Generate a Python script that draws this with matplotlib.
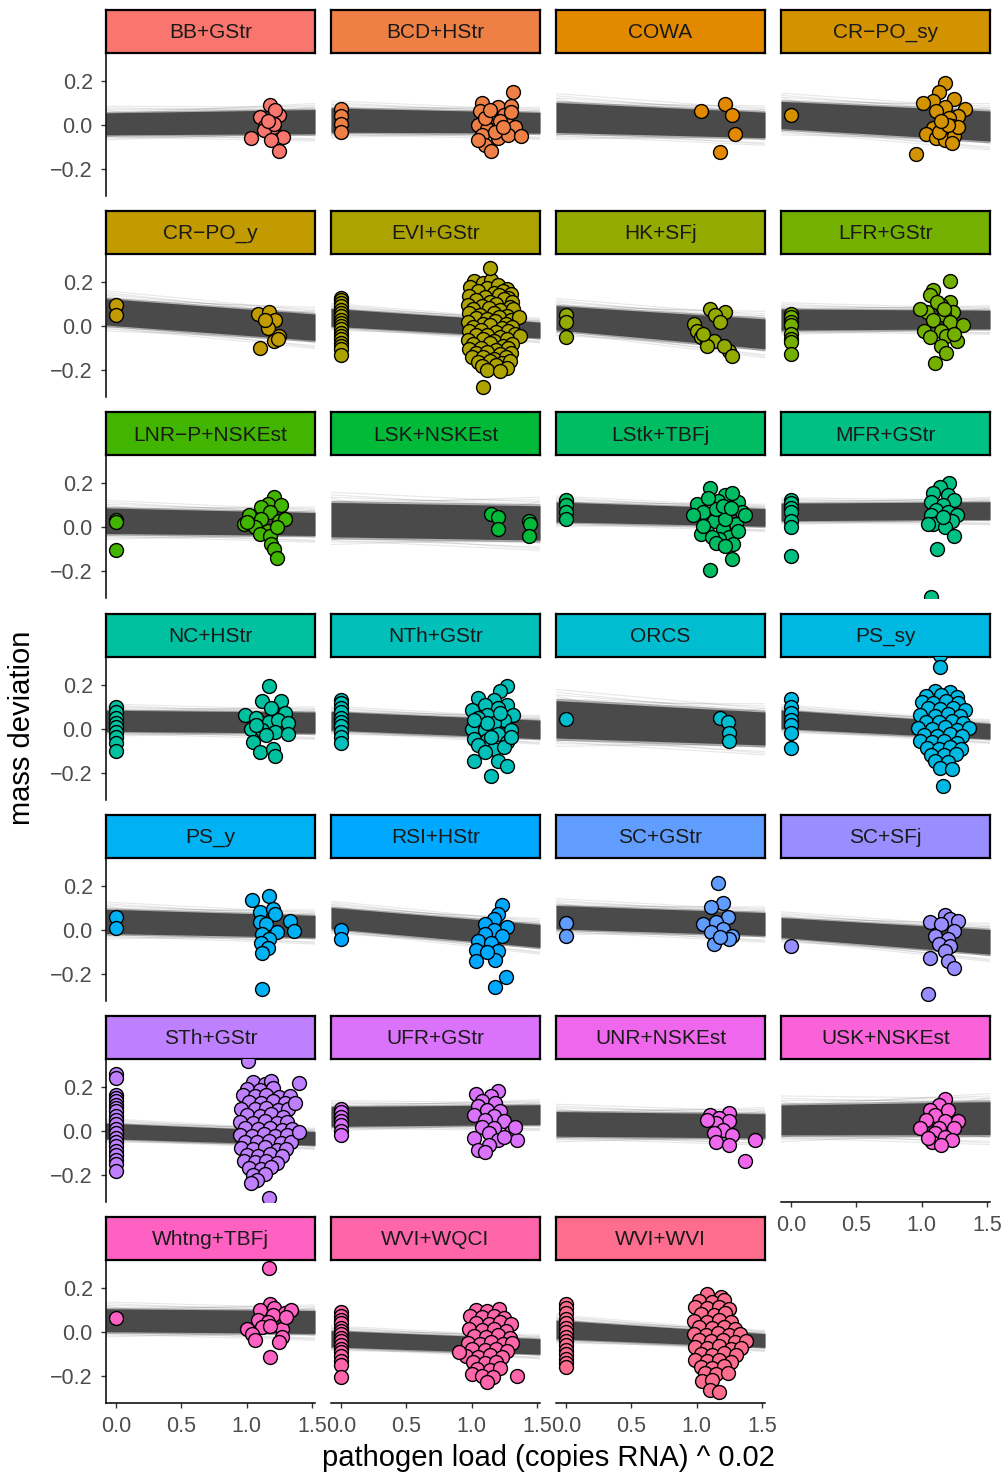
import numpy as np
import matplotlib
matplotlib.use("Agg")
import matplotlib.pyplot as plt

plt.rcParams['font.family'] = ['Liberation Sans', 'DejaVu Sans']

# facet names (ggplot facet_wrap order)
facets = ["BB+GStr", "BCD+HStr", "COWA", "CR\u2212PO_sy",
          "CR\u2212PO_y", "EVI+GStr", "HK+SFj", "LFR+GStr",
          "LNR\u2212P+NSKEst", "LSK+NSKEst", "LStk+TBFj", "MFR+GStr",
          "NC+HStr", "NTh+GStr", "ORCS", "PS_sy",
          "PS_y", "RSI+HStr", "SC+GStr", "SC+SFj",
          "STh+GStr", "UFR+GStr", "UNR+NSKEst", "USK+NSKEst",
          "Whtng+TBFj", "WVI+WQCI", "WVI+WVI"]

# posterior fit band: centre and half width at the left / right panel edge
fit_left = [0.005, 0.022, 0.034, 0.045, 0.065, 0.04, 0.038, 0.03,
            0.03, 0.035, 0.07, 0.07, 0.035, 0.035, 0.042, 0.042,
            0.038, 0.053, 0.057, 0.01, 0.0, 0.066, 0.032, 0.05,
            0.054, -0.03, 0.012]
fit_right = [0.015, 0.01, 0.0, -0.005, -0.005, -0.018, -0.035, 0.03,
             0.015, 0.02, 0.045, 0.076, 0.027, -0.004, 0.0, -0.012,
             0.015, -0.028, 0.026, -0.055, -0.034, 0.074, 0.023, 0.058,
             0.046, -0.065, -0.038]
spread_left = [0.05, 0.055, 0.068, 0.062, 0.06, 0.04, 0.055, 0.048,
               0.058, 0.078, 0.045, 0.04, 0.048, 0.042, 0.085, 0.042,
               0.055, 0.048, 0.053, 0.045, 0.035, 0.045, 0.056, 0.068,
               0.052, 0.037, 0.042]
spread_right = [0.055, 0.047, 0.058, 0.068, 0.06, 0.036, 0.068, 0.042,
                0.052, 0.078, 0.04, 0.04, 0.048, 0.042, 0.075, 0.035,
                0.05, 0.052, 0.052, 0.056, 0.031, 0.045, 0.055, 0.075,
                0.052, 0.035, 0.031]

# observed points (pathogen load ^ 0.02, mass deviation)
pts_bb_gstr = [(1.18, 0.09), (1.10, 0.035), (1.25, 0.045), (1.22, 0.07), (1.14, -0.005),
               (1.20, -0.01), (1.13, -0.025), (1.03, -0.06), (1.28, -0.055), (1.19, -0.07),
               (1.25, -0.12), (1.21, 0.005), (1.16, 0.02)]
pts_bcd_hstr = [(0, 0.073), (0, 0.042), (0, 0.005), (0, -0.03),
                (1.32, 0.15), (1.08, 0.10), (1.20, 0.08), (1.30, 0.085), (1.06, 0.065),
                (1.15, 0.04), (1.25, 0.045), (1.05, 0.0), (1.12, -0.02), (1.27, 0.005),
                (1.33, -0.01), (1.08, -0.045), (1.20, -0.06), (1.28, -0.045), (1.38, -0.05),
                (1.10, -0.09), (1.15, -0.12), (1.05, -0.07), (1.22, 0.02), (1.30, 0.06),
                (1.18, -0.03), (1.10, 0.03), (1.14, 0.07), (1.24, -0.01)]
pts_cowa = [(1.03, 0.065), (1.22, 0.096), (1.27, 0.047), (1.29, -0.043), (1.18, -0.124)]
pts_cr_po_sy = [(0, 0.045), (1.18, 0.19), (1.13, 0.15), (1.25, 0.12), (1.085, 0.11),
                (1.01, 0.10), (1.18, 0.08), (1.33, 0.073), (1.11, 0.065), (1.28, 0.042),
                (1.21, 0.031), (1.23, -0.005), (1.085, -0.012), (1.16, -0.02), (1.035, -0.043),
                (1.11, -0.059), (1.18, -0.067), (1.25, -0.051), (1.23, -0.082), (0.96, -0.13),
                (1.13, -0.03), (1.28, -0.01), (1.20, 0.0), (1.15, 0.02)]
pts_cr_po_y = [(0, 0.098), (0, 0.049), (1.09, 0.057), (1.17, 0.065), (1.22, 0.026),
               (1.16, -0.009), (1.25, -0.043), (1.21, -0.066), (1.10, -0.10), (1.24, -0.058),
               (1.14, 0.03)]
pts_evi_gstr = [(0, v) for v in [0.13, 0.12, 0.105, 0.09, 0.075, 0.06, 0.045, 0.03, 0.015,
                                 0.0, -0.015, -0.03, -0.045, -0.06, -0.075, -0.09, -0.105, -0.13]] + [
    (1.02, 0.205), (1.09, 0.195), (1.15, 0.21),
    (0.99, 0.178), (1.12, 0.172), (1.20, 0.185), (1.27, 0.168),
    (1.05, 0.158), (1.17, 0.150), (1.24, 0.162), (1.30, 0.148),
    (0.98, 0.138), (1.10, 0.132), (1.21, 0.142), (1.28, 0.128),
    (1.03, 0.118), (1.14, 0.112), (1.25, 0.122), (1.31, 0.108),
    (0.97, 0.098), (1.08, 0.092), (1.19, 0.102), (1.29, 0.088),
    (1.01, 0.078), (1.13, 0.082), (1.22, 0.072), (1.32, 0.076),
    (0.98, 0.058), (1.06, 0.052), (1.17, 0.062), (1.27, 0.048),
    (1.03, 0.038), (1.12, 0.032), (1.21, 0.042), (1.30, 0.028), (1.36, 0.040),
    (0.97, 0.018), (1.09, 0.012), (1.18, 0.022), (1.26, 0.008),
    (1.01, -0.002), (1.14, 0.004), (1.23, -0.008), (1.31, -0.004),
    (0.98, -0.022), (1.07, -0.018), (1.19, -0.028), (1.28, -0.020),
    (1.03, -0.042), (1.12, -0.038), (1.22, -0.048), (1.33, -0.036), (1.37, -0.045),
    (0.97, -0.062), (1.09, -0.058), (1.17, -0.068), (1.27, -0.060),
    (1.01, -0.082), (1.14, -0.078), (1.24, -0.088), (1.31, -0.080),
    (0.98, -0.102), (1.07, -0.098), (1.19, -0.108), (1.28, -0.100),
    (1.03, -0.122), (1.12, -0.118), (1.22, -0.128), (1.30, -0.120),
    (1.00, -0.142), (1.09, -0.138), (1.17, -0.148), (1.26, -0.140),
    (1.05, -0.162), (1.14, -0.158), (1.23, -0.168), (1.29, -0.160),
    (1.08, -0.182), (1.19, -0.178), (1.27, -0.188),
    (1.12, -0.198), (1.22, -0.205),
    (1.14, 0.265), (1.09, -0.277)]
pts_hk_sfj = [(0, 0.049), (0, 0.018), (0, -0.051), (1.10, 0.08), (1.22, 0.065), (1.14, 0.05),
              (0.98, 0.01), (1.0, -0.02), (1.03, -0.05), (1.08, -0.074), (1.13, -0.066),
              (1.18, 0.018), (1.25, -0.112), (1.21, -0.09), (1.08, -0.09), (1.27, -0.135),
              (1.05, -0.035)]
pts_lfr_gstr = [(0, 0.057), (0, 0.04), (0, 0.02), (0, 0.003), (0, -0.035), (0, -0.058),
                (0, -0.074), (0, -0.128),
                (1.22, 0.206), (1.09, 0.165), (1.06, 0.14), (1.22, 0.11), (1.15, 0.095),
                (1.04, 0.065), (1.24, 0.065), (1.17, 0.05), (1.09, 0.026), (1.22, 0.018),
                (1.32, 0.003), (1.015, -0.02), (1.15, -0.02), (1.06, -0.05), (1.19, -0.043),
                (1.27, -0.066), (1.15, -0.09), (1.19, -0.12), (1.10, -0.166), (1.25, -0.035),
                (1.12, 0.11), (0.99, 0.08), (1.17, 0.08)]
pts_lnr_p_nskest = [(0, 0.035), (0, 0.025), (0, -0.103),
                    (1.21, 0.138), (1.16, 0.108), (1.26, 0.10), (1.11, 0.092), (1.02, 0.054),
                    (1.18, 0.069), (1.11, 0.038), (0.98, 0.015), (1.25, 0.03), (1.29, 0.038),
                    (1.06, 0.0), (1.16, -0.015), (1.10, -0.03), (1.18, -0.038), (1.19, -0.077),
                    (1.21, -0.10), (1.23, -0.138), (1.0, 0.023), (1.23, 0.0)]
pts_lsk_nskest = [(1.15, 0.062), (1.2, 0.046), (1.2, -0.008), (1.44, 0.03), (1.45, 0.015),
                  (1.44, -0.04)]
pts_lstk_tbfj = [(0, 0.123), (0, 0.10), (0, 0.07), (0, 0.04),
                 (1.10, 0.177), (1.0, 0.108), (1.22, 0.146), (1.32, 0.115), (1.35, 0.069),
                 (1.05, 0.069), (1.16, 0.118), (1.27, 0.154), (1.13, 0.031), (1.30, 0.015),
                 (0.97, 0.054), (1.2, -0.008), (1.08, -0.023), (1.25, -0.046), (1.03, -0.03),
                 (1.17, -0.054), (1.28, -0.077), (1.10, -0.195), (1.27, -0.143), (1.22, 0.038),
                 (1.37, 0.054), (1.15, 0.085), (1.05, 0.008), (1.32, -0.015), (1.12, -0.046),
                 (1.20, 0.095), (1.09, 0.135), (1.26, 0.09), (1.15, -0.07), (1.22, -0.085)]
pts_mfr_gstr = [(0, 0.125), (0, 0.11), (0, 0.09), (0, 0.07), (0, 0.03), (0, 0.0), (0, -0.13),
                (1.21, 0.2), (1.14, 0.185), (1.09, 0.154), (1.2, 0.146), (1.25, 0.123),
                (1.07, 0.115), (1.16, 0.10), (1.11, 0.077), (1.2, 0.069), (1.27, 0.054),
                (1.07, 0.054), (1.14, 0.031), (1.23, 0.031), (1.09, 0.015), (1.18, 0.0),
                (1.25, -0.038), (1.12, -0.10), (1.07, -0.315), (1.05, 0.015), (1.16, 0.046)]
pts_nc_hstr = [(0, 0.1), (0, 0.075), (0, 0.05), (0, 0.025), (0, 0.005), (0, -0.015),
               (0, -0.04), (0, -0.065), (0, -0.1),
               (1.17, 0.192), (1.12, 0.123), (1.26, 0.123), (0.99, 0.062), (1.19, 0.092),
               (1.29, 0.069), (1.07, 0.046), (1.17, 0.031), (1.24, 0.038), (1.32, 0.023),
               (1.03, 0.0), (1.12, -0.008), (1.22, -0.015), (1.32, -0.023), (1.05, -0.062),
               (1.10, -0.108), (1.20, -0.092), (1.22, -0.123), (1.15, -0.031), (1.07, 0.015)]
pts_nth_gstr = [(0, 0.13), (0, 0.115), (0, 0.095), (0, 0.075), (0, 0.05), (0, 0.03),
                (0, 0.01), (0, -0.015), (0, -0.04), (0, -0.065),
                (1.27, 0.192), (1.22, 0.169), (1.05, 0.138), (1.17, 0.131), (1.27, 0.108),
                (1.10, 0.108), (1.0, 0.085), (1.2, 0.092), (1.32, 0.062), (1.12, 0.062),
                (1.05, 0.046), (1.25, 0.038), (1.17, 0.023), (1.0, 0.0), (1.10, -0.008),
                (1.30, -0.008), (1.2, -0.023), (1.02, -0.046), (1.12, -0.054), (1.27, -0.062),
                (1.05, -0.077), (1.17, -0.092), (1.25, -0.085), (1.10, -0.108), (1.02, -0.146),
                (1.2, -0.146), (1.27, -0.169), (1.15, -0.215), (1.12, 0.023), (1.02, 0.04),
                (1.22, 0.07), (1.15, -0.04), (1.30, -0.04)]
pts_orcs = [(0, 0.045), (1.18, 0.05), (1.24, 0.032), (1.25, -0.02), (1.25, -0.055)]
pts_ps_sy = [(0, 0.135), (0, 0.10), (0, 0.07), (0, 0.04), (0, 0.015), (0, -0.02), (0, -0.09),
             (1.10, 0.172), (1.22, 0.168),
             (1.03, 0.148), (1.15, 0.152), (1.27, 0.145),
             (1.00, 0.122), (1.09, 0.118), (1.19, 0.125), (1.28, 0.115),
             (1.05, 0.092), (1.14, 0.088), (1.24, 0.095), (1.33, 0.085),
             (0.99, 0.062), (1.10, 0.058), (1.20, 0.065), (1.29, 0.055),
             (1.03, 0.032), (1.13, 0.028), (1.23, 0.035), (1.32, 0.025),
             (0.97, 0.002), (1.08, -0.002), (1.18, 0.005), (1.27, -0.005), (1.36, 0.002),
             (1.02, -0.028), (1.12, -0.032), (1.22, -0.025), (1.31, -0.035),
             (0.99, -0.058), (1.08, -0.062), (1.17, -0.055), (1.27, -0.065),
             (1.04, -0.088), (1.13, -0.092), (1.22, -0.085), (1.30, -0.095),
             (1.07, -0.118), (1.17, -0.122), (1.26, -0.115),
             (1.10, -0.148), (1.20, -0.152),
             (1.14, -0.178), (1.23, -0.185),
             (1.14, 0.335), (1.14, 0.278), (1.16, -0.262)]
pts_ps_y = [(0, 0.06), (0, 0.01),
            (1.04, 0.135), (1.17, 0.155), (1.10, 0.08), (1.20, 0.096), (1.22, 0.073),
            (1.33, 0.042), (1.36, -0.005), (1.10, 0.034), (1.15, 0.026), (1.23, -0.012),
            (1.12, -0.02), (1.17, -0.043), (1.11, -0.062), (1.16, -0.082), (1.12, -0.105),
            (1.12, -0.268)]
pts_rsi_hstr = [(0, 0.0), (0, -0.04),
                (1.23, 0.112), (1.20, 0.073), (1.17, 0.05), (1.10, 0.026), (1.27, 0.011),
                (1.17, 0.0), (1.10, -0.02), (1.23, -0.028), (1.05, -0.051), (1.15, -0.059),
                (1.03, -0.09), (1.20, -0.098), (1.18, -0.136), (1.03, -0.144), (1.26, -0.214),
                (1.18, -0.26), (1.12, -0.10)]
pts_sc_gstr = [(0, 0.03), (0, -0.03),
               (1.16, 0.212), (1.20, 0.12), (1.11, 0.104), (1.24, 0.057), (1.05, 0.026),
               (1.15, 0.034), (1.20, 0.003), (1.11, -0.012), (1.27, -0.028), (1.25, -0.043),
               (1.13, -0.067), (1.18, -0.035)]
pts_sc_sfj = [(0, -0.074),
              (1.06, 0.034), (1.18, 0.065), (1.22, 0.05), (1.28, 0.042), (1.15, 0.026),
              (1.25, -0.005), (1.10, -0.028), (1.20, -0.043), (1.13, -0.067), (1.22, -0.074),
              (1.18, -0.098), (1.06, -0.129), (1.20, -0.144), (1.25, -0.175), (1.05, -0.29)]
pts_sth_gstr = [(0, v) for v in [0.26, 0.24, 0.165, 0.15, 0.135, 0.12, 0.105, 0.09, 0.07,
                                 0.05, 0.03, 0.01, -0.01, -0.03, -0.05, -0.07, -0.09, -0.11,
                                 -0.13, -0.15, -0.18]] + [
    (1.05, 0.222), (1.14, 0.212), (1.19, 0.225),
    (1.00, 0.192), (1.10, 0.188), (1.20, 0.195),
    (0.97, 0.162), (1.06, 0.158), (1.15, 0.165), (1.25, 0.155), (1.33, 0.160),
    (1.02, 0.132), (1.11, 0.128), (1.20, 0.135), (1.29, 0.125),
    (0.96, 0.102), (1.06, 0.098), (1.15, 0.105), (1.24, 0.095), (1.32, 0.100),
    (1.00, 0.072), (1.10, 0.068), (1.19, 0.075), (1.28, 0.065),
    (0.95, 0.042), (1.05, 0.038), (1.14, 0.045), (1.23, 0.035), (1.31, 0.040),
    (0.99, 0.012), (1.09, 0.008), (1.18, 0.015), (1.27, 0.005), (1.35, 0.010),
    (0.95, -0.018), (1.04, -0.022), (1.13, -0.015), (1.22, -0.025), (1.31, -0.020),
    (0.99, -0.048), (1.08, -0.052), (1.17, -0.045), (1.26, -0.055), (1.34, -0.050),
    (0.96, -0.078), (1.05, -0.082), (1.14, -0.075), (1.23, -0.085), (1.30, -0.080),
    (1.00, -0.108), (1.09, -0.112), (1.18, -0.105), (1.27, -0.115),
    (0.98, -0.138), (1.06, -0.142), (1.15, -0.135), (1.23, -0.145),
    (1.02, -0.168), (1.11, -0.172), (1.19, -0.165),
    (1.05, -0.198), (1.14, -0.195),
    (1.08, -0.225), (1.03, -0.238),
    (1.40, 0.22), (1.37, 0.127), (1.40, -0.005), (1.17, -0.305), (1.01, 0.32)]
pts_ufr_gstr = [(0, 0.1), (0, 0.085), (0, 0.065), (0, 0.045), (0, 0.025), (0, 0.0), (0, -0.02),
                (1.2, 0.18), (1.03, 0.166), (1.15, 0.158), (1.08, 0.135), (1.18, 0.128),
                (1.05, 0.112), (1.12, 0.097), (1.22, 0.09), (1.02, 0.074), (1.17, 0.066),
                (1.10, 0.05), (1.25, 0.043), (1.08, 0.02), (1.17, 0.012), (1.30, -0.003),
                (1.13, -0.011), (1.02, -0.034), (1.20, -0.042), (1.35, -0.042), (1.13, -0.065),
                (1.05, -0.088), (1.10, -0.095), (1.25, -0.026), (1.33, 0.02)]
pts_unr_nskest = [(1.10, 0.074), (1.25, 0.08), (1.17, 0.058), (1.25, 0.043), (1.15, 0.035),
                  (1.20, 0.005), (1.13, -0.01), (1.27, -0.018), (1.15, -0.049), (1.25, -0.065),
                  (1.45, -0.042), (1.37, -0.138), (1.08, 0.05)]
pts_usk_nskest = [(1.18, 0.146), (1.13, 0.12), (1.06, 0.097), (1.20, 0.097), (1.10, 0.074),
                  (1.03, 0.05), (1.18, 0.043), (1.28, 0.043), (0.99, 0.015), (1.13, 0.012),
                  (1.25, 0.012), (1.10, -0.011), (1.18, -0.026), (1.08, -0.049), (1.23, -0.042),
                  (1.15, -0.065), (1.05, -0.034)]
pts_whtng_tbfj = [(0, 0.062),
                  (1.17, 0.29), (1.18, 0.128), (1.10, 0.10), (1.21, 0.108), (1.29, 0.085),
                  (1.34, 0.10), (1.20, 0.077), (1.09, 0.054), (1.16, 0.046), (1.0, 0.015),
                  (1.12, 0.023), (1.27, 0.015), (1.04, -0.008), (1.27, -0.02), (1.06, -0.038),
                  (1.25, -0.046), (1.18, -0.115), (1.18, 0.03), (1.30, 0.07)]
pts_wvi_wqci = [(0, v) for v in [0.09, 0.075, 0.055, 0.04, 0.02, 0.005, -0.01, -0.025, -0.04,
                                 -0.06, -0.075, -0.09, -0.11, -0.13, -0.15, -0.205]] + [
    (1.03, 0.102), (1.12, 0.098), (1.21, 0.105),
    (0.99, 0.072), (1.08, 0.068), (1.17, 0.075), (1.25, 0.065),
    (1.03, 0.042), (1.13, 0.038), (1.22, 0.045), (1.30, 0.035),
    (0.98, 0.012), (1.08, 0.008), (1.17, 0.015), (1.26, 0.005),
    (1.02, -0.018), (1.11, -0.022), (1.20, -0.015), (1.29, -0.025),
    (0.97, -0.048), (1.06, -0.052), (1.15, -0.045), (1.24, -0.055), (1.31, -0.050),
    (1.00, -0.078), (1.10, -0.082), (1.19, -0.075), (1.27, -0.085),
    (0.96, -0.108), (1.05, -0.112), (1.14, -0.105), (1.23, -0.115),
    (1.01, -0.138), (1.10, -0.142), (1.19, -0.135),
    (1.04, -0.168), (1.14, -0.172), (1.22, -0.165),
    (1.00, -0.192), (1.08, -0.198), (1.16, -0.205),
    (1.12, -0.225),
    (0.90, -0.09), (1.35, -0.20)]
pts_wvi_wvi = [(0, v) for v in [0.13, 0.11, 0.085, 0.06, 0.04, 0.02, 0.0, -0.02, -0.04,
                                -0.06, -0.08, -0.1, -0.12, -0.14, -0.16]] + [
    (1.08, 0.172), (1.19, 0.160),
    (1.02, 0.142), (1.12, 0.138), (1.21, 0.145),
    (0.99, 0.112), (1.08, 0.108), (1.17, 0.115), (1.25, 0.105),
    (1.03, 0.082), (1.13, 0.078), (1.22, 0.085),
    (0.98, 0.052), (1.08, 0.048), (1.17, 0.055), (1.26, 0.045),
    (1.02, 0.022), (1.12, 0.018), (1.21, 0.025), (1.29, 0.015),
    (0.98, -0.008), (1.07, -0.012), (1.16, -0.005), (1.25, -0.015), (1.33, -0.010),
    (1.02, -0.038), (1.11, -0.042), (1.20, -0.035), (1.29, -0.045), (1.38, -0.040),
    (0.99, -0.068), (1.08, -0.072), (1.17, -0.065), (1.26, -0.075), (1.34, -0.070),
    (1.03, -0.098), (1.12, -0.102), (1.21, -0.095), (1.30, -0.105),
    (0.99, -0.128), (1.08, -0.132), (1.17, -0.125), (1.26, -0.135),
    (1.03, -0.158), (1.12, -0.162), (1.21, -0.155),
    (1.06, -0.188), (1.15, -0.192), (1.24, -0.185),
    (1.04, -0.222), (1.12, -0.218),
    (1.10, -0.262), (1.17, -0.270)]

facet_points = [pts_bb_gstr, pts_bcd_hstr, pts_cowa, pts_cr_po_sy,
                pts_cr_po_y, pts_evi_gstr, pts_hk_sfj, pts_lfr_gstr,
                pts_lnr_p_nskest, pts_lsk_nskest, pts_lstk_tbfj, pts_mfr_gstr,
                pts_nc_hstr, pts_nth_gstr, pts_orcs, pts_ps_sy,
                pts_ps_y, pts_rsi_hstr, pts_sc_gstr, pts_sc_sfj,
                pts_sth_gstr, pts_ufr_gstr, pts_unr_nskest, pts_usk_nskest,
                pts_whtng_tbfj, pts_wvi_wqci, pts_wvi_wvi]

x_ticks = [0.0, 0.5, 1.0, 1.5]
y_ticks = [-0.2, 0.0, 0.2]


def hue_colour(h, c=100.0, l=65.0):
    # ggplot's default hcl() hue palette
    hr = np.deg2rad(h)
    u, v = c * np.cos(hr), c * np.sin(hr)
    xn, yn, zn = 95.047, 100.0, 108.883
    Y = yn * ((l + 16) / 116) ** 3
    den = xn + 15 * yn + 3 * zn
    up = u / (13 * l) + 4 * xn / den
    vp = v / (13 * l) + 9 * yn / den
    X = Y * 9 * up / (4 * vp)
    Z = Y * (12 - 3 * up - 20 * vp) / (4 * vp)
    m = np.array([[3.240479, -1.537150, -0.498535],
                  [-0.969256, 1.875992, 0.041556],
                  [0.055648, -0.204043, 1.057311]])
    rgb = m @ np.array([X, Y, Z]) / 100
    rgb = np.where(rgb <= 0.0031308, 12.92 * rgb, 1.055 * np.abs(rgb) ** (1 / 2.4) - 0.055)
    return tuple(np.clip(rgb, 0, 1))


n = len(facets)
hues = np.linspace(15, 375, n + 1)[:n]
colours = [hue_colour(h) for h in hues]

W, H = 1004, 1475
fig = plt.figure(figsize=(W / 100, H / 100), dpi=100)

col_left = [106, 331, 556, 781]
pw, strip_h, ph, pitch = 209, 43, 143, 201.2
xlo, xhi = -0.0765, 1.523
ylo, yhi = -0.323, 0.327

# fringe draws around the dark core (multiples of the half width)
fringe = [(1.3, 1.1), (1.1, 1.35), (1.45, 0.9), (0.9, 1.5), (-1.3, -1.1), (-1.1, -1.4),
          (-1.45, -0.9), (-0.9, -1.5), (1.25, -1.2), (-1.2, 1.25), (1.6, 1.2), (-1.2, -1.6)]

for i, name in enumerate(facets):
    r, c = divmod(i, 4)
    x0 = col_left[c]
    top = 10 + pitch * r

    sax = fig.add_axes([x0 / W, 1 - (top + strip_h) / H, pw / W, strip_h / H])
    sax.set_facecolor(colours[i])
    sax.set_xticks([])
    sax.set_yticks([])
    for s in sax.spines.values():
        s.set_linewidth(1.6)
        s.set_color('black')
    sax.text(0.5, 0.47, name, ha='center', va='center', fontsize=15,
             color='#1A1A1A', transform=sax.transAxes)

    ax = fig.add_axes([x0 / W, 1 - (top + strip_h + ph) / H, pw / W, ph / H])
    ax.set_xlim(xlo, xhi)
    ax.set_ylim(ylo, yhi)
    ax.patch.set_alpha(0)

    yl, yr = fit_left[i], fit_right[i]
    hl, hr = spread_left[i], spread_right[i]
    for a, b in fringe:
        ax.plot([xlo, xhi], [yl + a * hl, yr + b * hr], color='#4D4D4D', alpha=0.13, lw=0.8)
    ax.fill_between([xlo, xhi], [yl - 1.12 * hl, yr - 1.12 * hr], [yl + 1.12 * hl, yr + 1.12 * hr],
                    color='#4D4D4D', alpha=0.45, lw=0)
    ax.fill_between([xlo, xhi], [yl - hl, yr - hr], [yl + hl, yr + hr],
                    color='#4A4A4A', lw=0)

    px = [p[0] for p in facet_points[i]]
    py = [p[1] for p in facet_points[i]]
    ax.scatter(px, py, s=100, color=colours[i], edgecolor='black', linewidth=1.0, zorder=3)

    for s in ['top', 'right']:
        ax.spines[s].set_visible(False)
    show_left = c == 0
    show_bottom = i + 4 >= n
    ax.spines['left'].set_visible(show_left)
    ax.spines['bottom'].set_visible(show_bottom)
    for s in ['left', 'bottom']:
        ax.spines[s].set_linewidth(1.1)
        ax.spines[s].set_color('black')
    ax.set_xticks(x_ticks if show_bottom else [])
    ax.set_yticks(y_ticks if show_left else [])
    ax.tick_params(length=3.5, width=1.0, color='#333333', labelcolor='#4D4D4D',
                   labelsize=15.5)
    ax.tick_params(axis='y', pad=6)
    ax.tick_params(axis='x', pad=6)
    if show_bottom:
        ax.set_xticklabels([f"{t:.1f}" for t in x_ticks])
    if show_left:
        ax.set_yticklabels([f"{t:.1f}".replace('-', '\u2212') for t in y_ticks])

fig.text(22 / W, 1 - 728 / H, 'mass deviation', rotation=90, ha='center', va='center',
         fontsize=21, color='black')
fig.text(548 / W, 1 - 1458 / H, 'pathogen load (copies RNA) ^ 0.02', ha='center',
         va='center', fontsize=21, color='black')

fig.savefig('out.png', dpi=100)
